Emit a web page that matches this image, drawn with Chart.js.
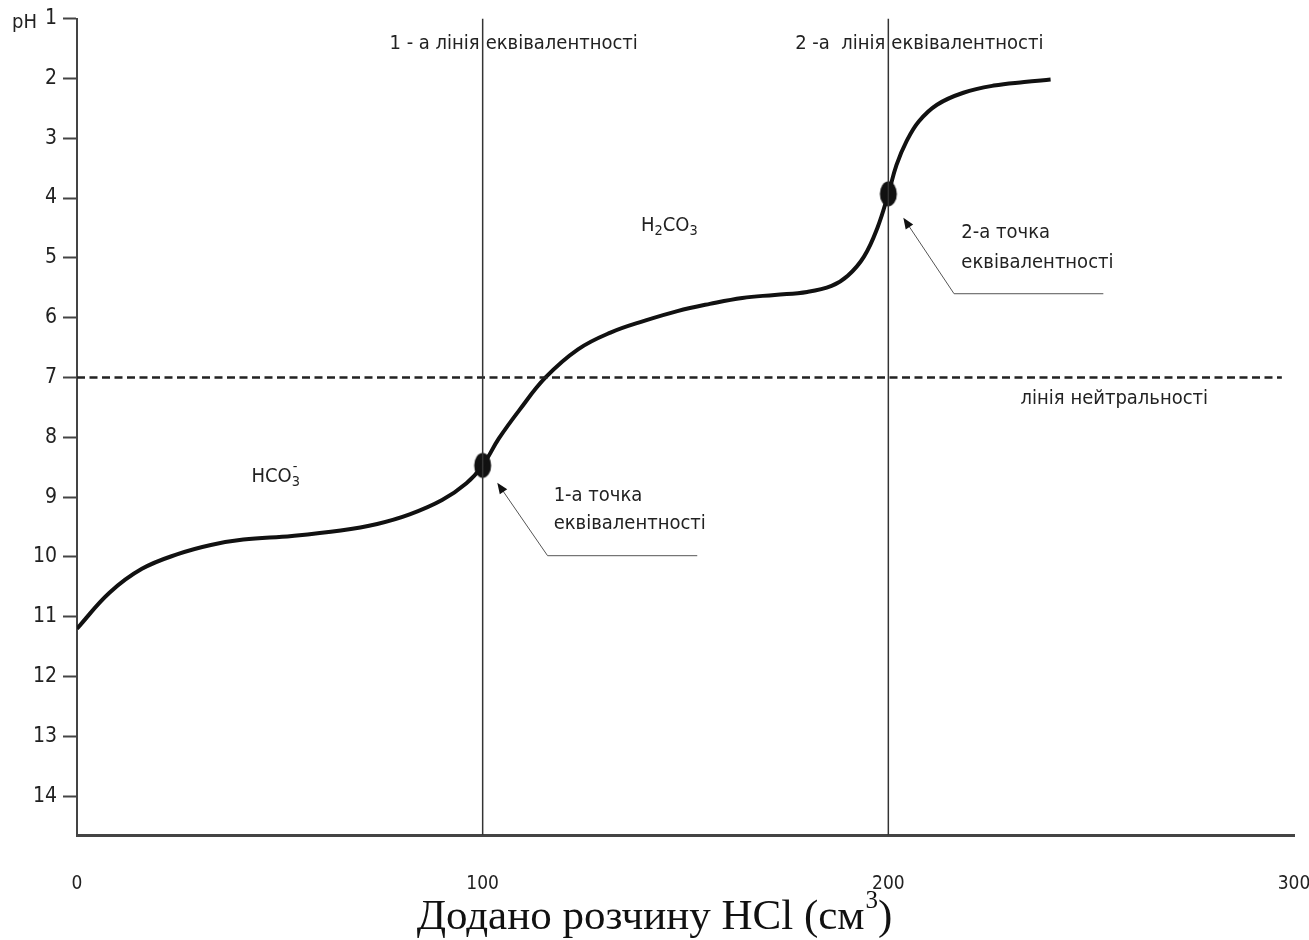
<!DOCTYPE html>
<html>
<head>
<meta charset="utf-8">
<script src="https://cdn.jsdelivr.net/npm/chart.js@4.4.0/dist/chart.umd.min.js"></script>
<style>
  html, body { margin: 0; padding: 0; background: #fff; }
  #wrap { width: 1309px; height: 940px; }
</style>
</head>
<body>
<div id="wrap"><canvas id="chart" width="1309" height="940"></canvas></div>
<script>
// titration curve (x = cm3 of HCl, y = pH)
const hclAdded = [0, 8, 16, 25, 33, 41, 53, 65, 74, 82, 90, 96, 100, 104, 109, 115.5, 123.5, 131.5, 140, 148,
                  156, 164, 172, 180, 186, 190, 194, 197.3, 200, 202, 204.5, 207.5, 212, 218.5, 226, 233.5, 240];
const phValues = [11.2, 10.6, 10.2, 9.95, 9.8, 9.71, 9.65, 9.56, 9.45, 9.29, 9.05, 8.77, 8.47, 8.02, 7.55, 7.0, 6.53, 6.25, 6.05, 5.89,
                  5.77, 5.67, 5.62, 5.57, 5.47, 5.3, 4.98, 4.5, 3.93, 3.45, 3.05, 2.72, 2.44, 2.24, 2.12, 2.06, 2.02];

// equivalence points
const eqVolume = [100, 200];
const eqPH = [8.47, 3.93];

// neutrality line (pH 7)
const neutralVolume = [0, 297];
const neutralPH = [7, 7];

const phTicks = [1, 2, 3, 4, 5, 6, 7, 8, 9, 10, 11, 12, 13, 14];
const volumeTicks = [0, 100, 200, 300];
const phMin = 1;
const phMax = 14.65;

const narrow = "'Liberation Sans Narrow', 'Arial Narrow', 'DejaVu Sans Condensed', sans-serif";
const serif = "'Liberation Serif', 'Times New Roman', serif";

// ===== ellipse marker for the equivalence points =====
const dot = document.createElement("canvas");
dot.width = 20;
dot.height = 28;
const dctx = dot.getContext("2d");
dctx.fillStyle = "#111";
dctx.beginPath();
dctx.ellipse(10, 14, 8.5, 12.5, 0, 0, Math.PI * 2);
dctx.fill();

// ===== helpers =====
function chem(ctx, parts, x, y, size) {
    // parts: [text, shift] shift 0 = normal, 1 = subscript
    let cx = x;
    parts.forEach(([t, shift]) => {
        const s = shift ? size * 0.72 : size;
        ctx.font = s + "px " + narrow;
        ctx.fillText(t, cx, y + (shift ? size * 0.3 : 0));
        cx += ctx.measureText(t).width;
    });
    return cx;
}

function arrow(ctx, fromX, fromY, toX, toY) {
    const ang = Math.atan2(toY - fromY, toX - fromX);
    ctx.beginPath();
    ctx.moveTo(fromX, fromY);
    ctx.lineTo(toX - Math.cos(ang) * 8, toY - Math.sin(ang) * 8);
    ctx.stroke();
    ctx.beginPath();
    ctx.moveTo(toX, toY);
    ctx.lineTo(toX - Math.cos(ang) * 11 - Math.sin(ang) * 4.5, toY - Math.sin(ang) * 11 + Math.cos(ang) * 4.5);
    ctx.lineTo(toX - Math.cos(ang) * 11 + Math.sin(ang) * 4.5, toY - Math.sin(ang) * 11 - Math.cos(ang) * 4.5);
    ctx.closePath();
    ctx.fill();
}

// ===== labels, leaders, axis titles =====
const notes = {
    id: "notes",
    afterDraw(chart) {
        const { ctx, scales: { x, y } } = chart;
        const px = v => x.getPixelForValue(v);
        const py = v => y.getPixelForValue(v);
        const size = 20;

        ctx.save();
        ctx.fillStyle = "#222";
        ctx.textBaseline = "middle";
        ctx.font = size + "px " + narrow;

        // pH label
        ctx.textAlign = "left";
        ctx.fillText("pH", 12, 23);

        // equivalence line captions
        ctx.textAlign = "right";
        ctx.fillText("1 - а лінія", px(100) - 3, 44);
        ctx.fillText("2 -а  лінія", px(200) - 3, 44);
        ctx.textAlign = "left";
        ctx.fillText("еквівалентності", px(100) + 3, 44);
        ctx.fillText("еквівалентності", px(200) + 3, 44);

        // species
        const hcoEnd = chem(ctx, [["HCO", 0]], px(43), py(8.66), size);
        ctx.font = (size * 0.72) + "px " + narrow;
        ctx.fillText("3", hcoEnd, py(8.66) + size * 0.3);
        ctx.fillText("-", hcoEnd + 1, py(8.66) - size * 0.45);
        chem(ctx, [["H", 0], ["2", 1], ["CO", 0], ["3", 1]], px(139), py(4.46), size);

        // equivalence point captions
        ctx.font = size + "px " + narrow;
        ctx.fillText("1-а точка", px(117.5), py(8.98));
        ctx.fillText("еквівалентності", px(117.5), py(9.44));
        ctx.fillText("2-а точка", px(218), py(4.58));
        ctx.fillText("еквівалентності", px(218), py(5.08));
        ctx.fillText("лінія нейтральності", px(232.6), py(7.35));

        // leaders
        ctx.strokeStyle = "#555";
        ctx.fillStyle = "#111";
        ctx.lineWidth = 1;
        ctx.beginPath();
        ctx.moveTo(px(152.9), py(9.98));
        ctx.lineTo(px(116), py(9.98));
        ctx.stroke();
        arrow(ctx, px(116), py(9.98), px(103.6), py(8.76));
        ctx.beginPath();
        ctx.moveTo(px(253), py(5.6));
        ctx.lineTo(px(216.2), py(5.6));
        ctx.stroke();
        arrow(ctx, px(216.2), py(5.6), px(203.7), py(4.33));

        // x axis title with superscript
        ctx.fillStyle = "#111";
        ctx.textBaseline = "alphabetic";
        ctx.textAlign = "left";
        const main = "Додано розчину HCl (см";
        ctx.font = "43px " + serif;
        const wMain = ctx.measureText(main).width;
        ctx.font = "25px " + serif;
        const wSup = ctx.measureText("3").width;
        ctx.font = "43px " + serif;
        const wClose = ctx.measureText(")").width;
        let tx = 654 - (wMain + wSup + wClose) / 2;
        ctx.fillText(main, tx, 929);
        tx += wMain + 1;
        ctx.font = "25px " + serif;
        ctx.fillText("3", tx, 908);
        tx += wSup;
        ctx.font = "43px " + serif;
        ctx.fillText(")", tx, 929);
        ctx.restore();
    }
};

const curvePoints = hclAdded.map((v, i) => ({ x: v, y: phValues[i] }));
const eqPoints = eqVolume.map((v, i) => ({ x: v, y: eqPH[i] }));
const neutralPoints = neutralVolume.map((v, i) => ({ x: v, y: neutralPH[i] }));

const eqLines = eqVolume.map(v => ({
    data: [{ x: v, y: phMin }, { x: v, y: phMax }],
    borderColor: "#333",
    borderWidth: 1.5,
    pointRadius: 0,
    tension: 0
}));

new Chart(document.getElementById("chart"), {
    type: "line",
    data: {
        datasets: [
            ...eqLines,
            {
                data: neutralPoints,
                borderColor: "#222",
                borderWidth: 2.5,
                borderDash: [8, 4.5],
                pointRadius: 0,
                tension: 0
            },
            {
                data: curvePoints,
                borderColor: "#111",
                borderWidth: 4,
                pointRadius: 0,
                tension: 0.4
            },
            {
                data: eqPoints,
                showLine: false,
                pointStyle: dot,
                pointRadius: 10
            }
        ]
    },
    options: {
        responsive: false,
        animation: false,
        layout: { padding: { top: 18, right: 15, left: 0, bottom: 0 } },
        plugins: {
            legend: { display: false },
            tooltip: { enabled: false }
        },
        scales: {
            x: {
                type: "linear",
                min: 0,
                max: 300,
                afterBuildTicks: s => { s.ticks = volumeTicks.map(v => ({ value: v })); },
                afterFit: s => {
                    s.height = 105;
                    s.paddingLeft = 0;
                    s.paddingRight = 0;
                },
                grid: { drawOnChartArea: false, drawTicks: false },
                border: { color: "#444", width: 3 },
                ticks: {
                    padding: 38,
                    maxRotation: 0,
                    color: "#222",
                    font: { family: narrow, size: 19 }
                }
            },
            y: {
                type: "linear",
                reverse: true,
                min: phMin,
                max: phMax,
                afterBuildTicks: s => { s.ticks = phTicks.map(v => ({ value: v })); },
                afterFit: s => { s.width = 77; },
                grid: { drawOnChartArea: false, tickLength: 14, tickColor: "#444", tickWidth: 2 },
                border: { color: "#444", width: 2 },
                ticks: {
                    padding: 6,
                    color: "#222",
                    font: { family: narrow, size: 21 }
                }
            }
        }
    },
    plugins: [notes]
});
</script>
</body>
</html>
